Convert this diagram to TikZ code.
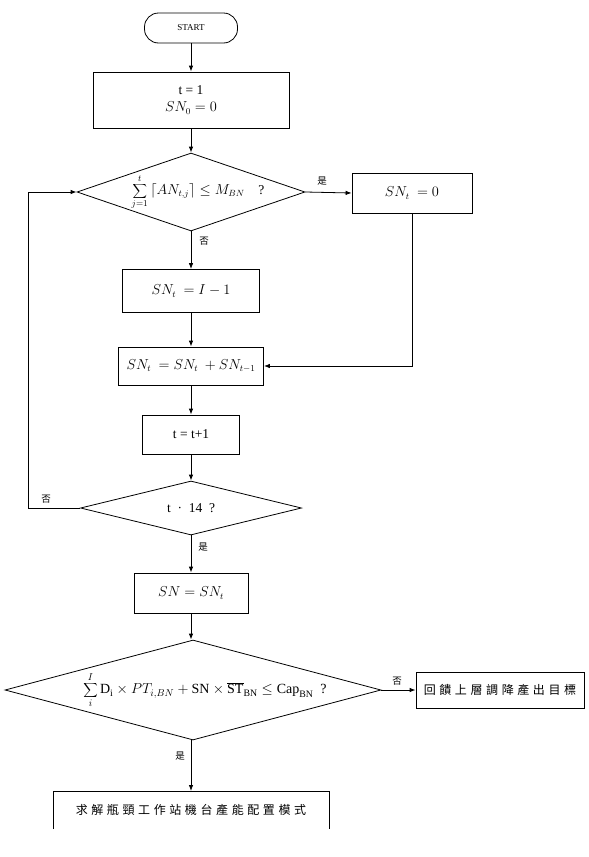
\documentclass[tikz,border=0pt]{standalone}
\usepackage{fontspec}
\setmainfont{Liberation Serif}
\newfontfamily\cjk[LetterSpace=30]{Noto Sans CJK TC}
\newfontfamily\cjklab{Noto Sans CJK TC}
\usetikzlibrary{arrows.meta,shapes.geometric}
\tikzset{
  box/.style={draw, line width=0.8pt, rectangle, inner sep=0pt, font=\fontsize{13.5}{16}\selectfont},
  dia/.style={draw, line width=0.8pt, diamond, inner sep=0pt},
  txt/.style={inner sep=0pt, font=\fontsize{13.5}{16}\selectfont},
  lab/.style={inner sep=0pt, font=\cjklab\fontsize{9.5}{10}\selectfont},
  arr/.style={line width=0.8pt, -{Latex[length=6pt,width=4.5pt]}},
  ln/.style={line width=0.8pt}
}
\begin{document}
\begin{tikzpicture}[x=1pt,y=-1pt]
\useasboundingbox (0,0) rectangle (589,857);
% start
\node[box, rounded corners=14pt, minimum width=93pt, minimum height=30pt, font=\fontsize{9}{10}\selectfont] (start) at (191,28) {START};
\node[box, minimum width=196pt, minimum height=56pt, align=center] (b1) at (191,100) {t = 1\\[1pt] $SN_0 = 0$};
\node[dia, minimum width=228pt, minimum height=78pt] (d1) at (191,192) {};
\node[txt] (d1t) at (198,192) {$\displaystyle\sum_{j=1}^{t}\left\lceil AN_{t,j}\right\rceil \le M_{BN}$\quad ?};
\node[box, minimum width=120pt, minimum height=40pt] (bz) at (412,193) {$SN_t\ = 0$};
\node[box, minimum width=137pt, minimum height=43pt] (b2) at (191,291) {$SN_t\ = I - 1$};
\node[box, minimum width=145pt, minimum height=38pt] (b3) at (191,366) {$SN_t\ = SN_t\ + SN_{t-1}$};
\node[box, minimum width=97pt, minimum height=39pt] (b4) at (191,434.5) {t = t+1};
\node[dia, minimum width=221pt, minimum height=54pt] (d2) at (191,508) {};
\node[txt] (d2t) at (191,508) {t\enspace·\enspace 14\enspace ?};
\node[box, minimum width=114pt, minimum height=40pt] (b5) at (191,593) {$SN = SN_t$};
\node[dia, minimum width=376pt, minimum height=100pt] (d3) at (193,690) {};
\node[txt, font=\fontsize{14}{16}\selectfont] (d3t) at (205,690) {$\displaystyle\sum_{i}^{I}\mathrm{D_i}\times PT_{i,BN}+\mathrm{SN}\times\overline{\mathrm{ST}}_{\mathrm{BN}}\le\mathrm{Cap}_{\mathrm{BN}}$\ \ ?};
\node[box, minimum width=168pt, minimum height=36pt, font=\cjk\fontsize{12}{14}\selectfont] (b6) at (500,690) {回饋上層調降產出目標};
\node[txt, font=\cjk\fontsize{12}{14}\selectfont] (b7) at (191,810) {求解瓶頸工作站機台產能配置模式};
\coordinate (b7top) at (191,791);
\draw[ln] (53,829) -- (53,791) -- (329,791) -- (329,829);
% connectors
\draw[arr] (start.south) -- (b1.north);
\draw[arr] (b1.south) -- (d1.north);
\draw[arr] (d1.east) -- (bz.west);
\draw[arr] (d1.south) -- (b2.north);
\draw[arr] (b2.south) -- (b3.north);
\draw[arr] (bz.south) |- (b3.east);
\draw[arr] (b3.south) -- (b4.north);
\draw[arr] (b4.south) -- (d2.north);
\coordinate (lp) at (28,508);
\draw[arr] (d2.west) -- (lp) |- (d1.west);
\draw[arr] (d2.south) -- (b5.north);
\draw[arr] (b5.south) -- (b5.south |- d3.north);
\draw[arr] (d3.east) -- (b6.west);
\draw[arr] (d3.south -| b7top) -- (b7top);
% labels
\node[lab] (l1) at (322,181) {是};
\node[lab] (l2) at (204,241) {否};
\node[lab] (l3) at (46,499) {否};
\node[lab] (l4) at (203,547) {是};
\node[lab] (l5) at (397,681) {否};
\node[lab] (l6) at (180,756) {是};
\end{tikzpicture}
\end{document}
